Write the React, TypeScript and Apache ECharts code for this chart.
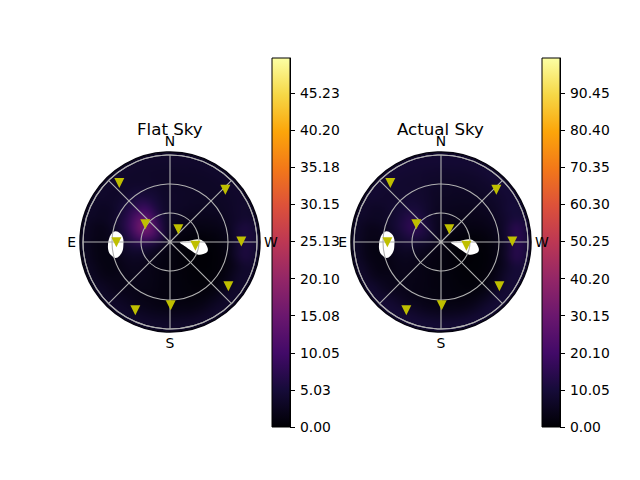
import React, { useEffect, useRef } from "react";
import * as echarts from "echarts";

const ringEdges = [0, 9.31, 18.62, 27.93, 37.24, 46.55, 55.86, 65.17, 74.48, 83.79, 93.1];
const azimuthStep = 15;
const heatRadiusMax = 93.1;
const gridRadiusMax = 90;

const flatSky = [
  [2.5,3,3.5,4,4,3.5,3,2.5,2,1.5,1.5,1.5,1.5,1.5,1,1,0.8,0.8,0.8,1,1.5,1.5,2,2.5],
  [3,4,6,8,9,6.5,4.5,3,2,1.5,1.2,1.2,1.2,1,0.8,0.6,0.4,0.4,0.5,1,1.2,1.5,2,2.5],
  [3.5,5,9,14,15,10,5.5,3.5,2.2,1.6,1.2,1,1,0.8,0.5,0.3,0.2,0.2,0.4,1,1.4,2,2.5,3],
  [3.5,5.5,11,18,17,11,5.5,3.5,2.4,1.8,1.4,1,1,0.8,0.4,0.2,0.1,0.2,0.5,1.2,1.8,2.4,3,3.2],
  [3.5,5.5,10,13,11,7,4.5,3,2.4,2,1.6,1,1,0.7,0.4,0.2,0.2,0.3,0.8,1.6,2.2,2.8,3.2,3.4],
  [3.5,5,7,7.5,6.5,4.5,3,2.4,2.2,2,1.6,1.1,1,0.7,0.4,0.3,0.4,0.6,1.2,2,2.6,3,3.2,3.4],
  [3.4,4,5,5,4,2.6,1.4,1.4,1.8,1.8,1.5,1.1,1,0.8,0.6,0.6,0.8,1.2,2,2.6,3,3.2,3.2,3.2],
  [3.4,3.6,3.8,3.6,2.8,1.8,1.2,1.2,1.8,2,1.8,1.6,1.4,1.2,1.2,1.4,1.8,4,4.5,3.4,3.2,3.2,3.2,3.2],
  [3.6,3.6,3.6,3.4,2.8,2,1.6,1.8,2.4,2.8,2.8,2.8,2.6,2.4,2.8,3.2,3.6,6,6,4,3.6,3.4,3.4,3.6],
  [4,4,4,4,3.5,3,2.8,3,3.5,3.8,4,4,4,4,4,4,4,4.5,4.5,4,4,4,4,4],
];

const actualSky = [
  [4,4.5,5,5.5,5.5,5,4.5,4,3.5,3,3,3,3,3,2.5,2,2,1.5,1.5,2,2.5,3,3.5,4],
  [4.5,5.5,7,9,10,7.5,6,4.5,3.5,3,2.5,2.5,2.5,2,1.5,1,0.8,0.8,1,2,2.5,3,3.5,4],
  [5,6.5,9.5,12,13,10.5,7,5,3.5,3,2.5,2,2,1.5,1,0.6,0.4,0.4,0.8,2,3,3.5,4,4.5],
  [5.5,7,10.5,16,17,11.5,7.5,5,4,3.2,2.6,2,2,1.5,0.8,0.4,0.3,0.4,1,2.4,3.4,4,4.6,5],
  [6,8,10.5,14,13,9.5,7,5,4,3.5,3,2.2,2,1.4,0.8,0.5,0.5,0.8,1.6,3,4,4.6,5,5.5],
  [6.5,8,9.5,10,9.5,7,4.5,4,4,3.6,3,2.4,2,1.4,1,0.8,1,1.4,2.6,4,4.8,5.2,5.6,6],
  [7,8,8.5,8.5,7,4.5,2.4,2.6,3.6,3.8,3.2,2.6,2.2,1.8,1.4,1.6,2.2,3,4.5,5.4,5.8,6,6.2,6.6],
  [7.5,8,8,7.5,6,3.6,2.4,2.8,4,4.8,4.6,4,3.4,3,3.2,4,5,8,9.5,7.5,7,7,7,7.2],
  [8.5,8.5,8.5,8,6.5,4.5,3.6,4.4,6,7.5,7.5,7,6.5,6,7,8,9,15,16,10,8.5,8,8,8.4],
  [9.5,9.5,9.5,9,8,7,7,8,9,10,10,10,10,10,10,10,10,11,11,10,10,10,9.5,9.5],
];

const starRadius = [80.4, 78.8, 73.8, 75.8, 65.5, 79.3, 55.5, 31.4, 15.7, 26.5];
const starAzimuth = [40.7, 313.4, 270.5, 232.8, 180.6, 153.1, 90.4, 54.4, 326.7, 261.8];

const holeEast = [
  [57.3,78.9],[52.5,80.2],[48.8,85.1],[48.3,93.3],[50.2,101.1],[54.4,105.4],
  [58.6,106.4],[61.7,103.6],[64.2,98.7],[64.2,92.5],[62.9,86.2],[60.7,81.5],
];
const holeWest = [
  [10.3,268.1],[20.7,273.8],[29.4,275.4],[34.5,271.1],[38.5,263.3],
  [40.1,256.1],[36.6,250.2],[32.1,245.9],[24.3,247.4],[16.1,253.9],
];

const titles = ["Flat Sky", "Actual Sky"];
const titleWidths = [66, 88];
const flatTicks = ["0.00","5.03","10.05","15.08","20.10","25.13","30.15","35.18","40.20","45.23"];
const actualTicks = ["0.00","10.05","20.10","30.15","40.20","50.25","60.30","70.35","80.40","90.45"];
const flatMax = 49.97;
const actualMax = 99.93;
const flatInterval = 5.025;
const actualInterval = 10.05;
const compass: Record<number, string> = { 0: "N", 90: "E", 180: "S", 270: "W" };
const inferno = ["#000004","#160b39","#420a68","#6a176e","#932667","#bc3754","#dd513a","#f37819","#fca50a","#f6d746","#fcffa4"];

const font = "DejaVu Sans";
const centers = [170, 441];
const bars = [272, 542];
const cy = 242;

function cells(table: number[][]) {
  const out: number[][] = [];
  table.forEach((row, i) => row.forEach((v, j) => out.push([i, j, v])));
  return out;
}

function heatItem(_p: any, api: any) {
  const i = api.value(0);
  const j = api.value(1);
  const r0 = ringEdges[i];
  const r1 = ringEdges[i + 1];
  const a0 = j * azimuthStep;
  const pts: number[][] = [];
  for (let k = 0; k <= 4; k++) pts.push(api.coord([r1, a0 + (k * azimuthStep) / 4]));
  for (let k = 4; k >= 0; k--) pts.push(api.coord([r0, a0 + (k * azimuthStep) / 4]));
  const color = api.visual("color");
  return {
    type: "polygon",
    shape: { points: pts },
    style: { fill: color, stroke: color, lineWidth: 0.7 },
  };
}

function holeItem(outline: number[][]) {
  return (_p: any, api: any) => ({
    type: "polygon",
    shape: { points: outline.map((o) => api.coord(o)), smooth: 0.4 },
    style: { fill: "#ffffff", stroke: "none" },
  });
}

function overlaySeries(polarIndex: number) {
  return [
    ...[holeEast, holeWest].map((outline) => ({
      type: "custom",
      coordinateSystem: "polar",
      polarIndex,
      data: [[0, 0]],
      encode: { radius: 0, angle: 1 },
      renderItem: holeItem(outline),
      silent: true,
      z: 2,
    })),
    {
      type: "scatter",
      coordinateSystem: "polar",
      polarIndex,
      data: starRadius.map((r, i) => [r, starAzimuth[i]]),
      symbol: "triangle",
      symbolRotate: 180,
      symbolSize: [10, 10],
      itemStyle: { color: "#bfbf00", opacity: 1 },
      silent: true,
      z: 5,
    },
  ];
}

function colorbarSeries(index: number, max: number) {
  return {
    type: "bar",
    xAxisIndex: index,
    yAxisIndex: index,
    data: [max],
    barWidth: "100%",
    silent: true,
    itemStyle: {
      color: new echarts.graphic.LinearGradient(
        0, 1, 0, 0,
        inferno.map((color, i) => ({ offset: i / (inferno.length - 1), color }))
      ),
    },
  };
}

export default function App() {
  const heatRef = useRef<HTMLDivElement>(null);
  const overlayRef = useRef<HTMLDivElement>(null);
  useEffect(() => {
    document.body.style.margin = "0";
    const heat = echarts.init(heatRef.current!, undefined, { renderer: "svg" });
    heat.setOption({
      animation: false,
      backgroundColor: "#0a0720",
      polar: centers.map((c) => ({ center: [c, cy], radius: 90 })),
      angleAxis: centers.map((_c, i) => ({
        polarIndex: i,
        type: "value",
        min: 0,
        max: 360,
        startAngle: 90,
        clockwise: false,
        axisLine: { show: false },
        axisTick: { show: false },
        axisLabel: { show: false },
        splitLine: { show: false },
      })),
      radiusAxis: centers.map((_c, i) => ({
        polarIndex: i,
        type: "value",
        min: 0,
        max: heatRadiusMax,
        axisLine: { show: false },
        axisTick: { show: false },
        axisLabel: { show: false },
        splitLine: { show: false },
      })),
      visualMap: [
        { show: false, seriesIndex: 0, dimension: 2, min: 0, max: flatMax, inRange: { color: inferno } },
        { show: false, seriesIndex: 1, dimension: 2, min: 0, max: actualMax, inRange: { color: inferno } },
      ],
      series: [flatSky, actualSky].map((table, polarIndex) => ({
        type: "custom",
        coordinateSystem: "polar",
        polarIndex,
        data: cells(table),
        dimensions: ["ring", "sector", "value"],
        encode: { radius: 0, angle: 1 },
        renderItem: heatItem,
        silent: true,
      })),
    });

    const maxes = [flatMax, actualMax];
    const intervals = [flatInterval, actualInterval];
    const ticks = [flatTicks, actualTicks];
    const chart = echarts.init(overlayRef.current!, undefined, { renderer: "svg" });
    chart.setOption({
      animation: false,
      textStyle: { fontFamily: font },
      title: titles.map((text, i) => ({
        text,
        left: centers[i] - titleWidths[i] / 2,
        top: 121,
        padding: 0,
        textStyle: { fontFamily: font, fontSize: 16.67, fontWeight: "normal", color: "#000" },
      })),
      polar: centers.map((c) => ({ center: [c, cy], radius: 87 })),
      angleAxis: centers.map((_c, i) => ({
        polarIndex: i,
        type: "value",
        min: 0,
        max: 360,
        interval: 45,
        startAngle: 90,
        clockwise: false,
        z: 3,
        axisLine: { show: true, lineStyle: { color: "#b0b0b0", width: 1.1 } },
        axisTick: { show: false },
        axisLabel: {
          show: true,
          margin: 7,
          fontFamily: font,
          fontSize: 13.9,
          color: "#000",
          formatter: (v: number) => compass[v] ?? "",
        },
        splitLine: { show: true, lineStyle: { color: "#b0b0b0", width: 1.1 } },
      })),
      radiusAxis: centers.map((_c, i) => ({
        polarIndex: i,
        type: "value",
        min: 0,
        max: gridRadiusMax,
        interval: 30,
        z: 3,
        axisLine: { show: false },
        axisTick: { show: false },
        axisLabel: { show: false },
        splitLine: { show: true, lineStyle: { color: "#b0b0b0", width: 1.1 } },
      })),
      grid: bars.map((left) => ({
        left,
        width: 18,
        top: 58,
        height: 369,
        show: false,
      })),
      xAxis: bars.map((_b, i) => ({
        gridIndex: i,
        type: "category",
        data: [""],
        axisLine: { show: false },
        axisTick: { show: false },
        axisLabel: { show: false },
      })),
      yAxis: bars.map((_b, i) => ({
        gridIndex: i,
        type: "value",
        position: "right",
        min: 0,
        max: maxes[i],
        interval: intervals[i],
        splitLine: { show: false },
        axisLine: { show: true, lineStyle: { color: "#000", width: 1 } },
        axisTick: { show: true, length: 5, lineStyle: { color: "#000", width: 1 } },
        axisLabel: {
          show: true,
          margin: 10,
          fontFamily: font,
          fontSize: 13.9,
          color: "#000",
          showMaxLabel: false,
          formatter: (_v: number, idx: number) => ticks[i][idx] ?? "",
        },
      })),
      series: [
        ...overlaySeries(0),
        ...overlaySeries(1),
        colorbarSeries(0, flatMax),
        colorbarSeries(1, actualMax),
      ],
      graphic: [
        ...bars.map((left) => ({
          type: "rect",
          shape: { x: left, y: 58, width: 18, height: 369 },
          style: { fill: "none", stroke: "#000", lineWidth: 1 },
          z: 10,
          silent: true,
        })),
        ...centers.map((c) => ({
          type: "circle",
          shape: { cx: c, cy, r: 90 },
          style: { fill: "none", stroke: "#05030f", lineWidth: 1.5 },
          z: 1,
          silent: true,
        })),
      ],
    });
    return () => {
      heat.dispose();
      chart.dispose();
    };
  }, []);

  const disc = (c: number) => `M${c - 90} ${cy}a90 90 0 1 0 180 0a90 90 0 1 0 -180 0z`;
  return (
    <div style={{ position: "relative", width: 640, height: 480, background: "#fff" }}>
      <div style={{ position: "absolute", left: 0, top: 0, width: 640, height: 480, clipPath: `path('${disc(centers[0])}${disc(centers[1])}')` }}>
        <div ref={heatRef} style={{ width: 640, height: 480, filter: "blur(5px)" }} />
      </div>
      <div ref={overlayRef} style={{ position: "absolute", left: 0, top: 0, width: 640, height: 480 }} />
    </div>
  );
}
